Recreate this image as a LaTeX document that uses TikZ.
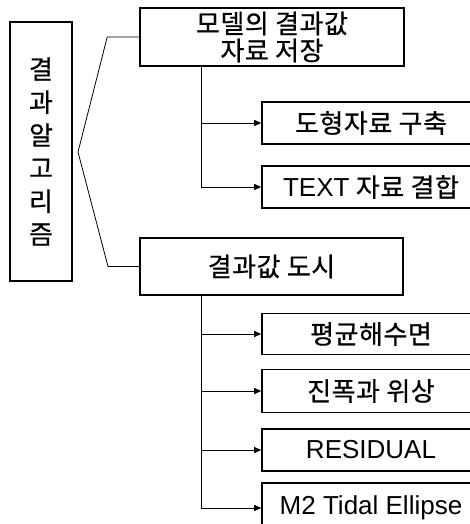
\documentclass[tikz,border=0pt]{standalone}
\usepackage{fontspec}
\newfontfamily\kor[LetterSpace=2,FakeBold=0.6]{Noto Sans CJK KR}
\newfontfamily\lat{Liberation Sans}
\usetikzlibrary{arrows.meta}
\begin{document}
\begin{tikzpicture}[x=1pt,y=-1pt,
  box/.style={draw,line width=1.6pt,inner sep=0pt,align=center,
    font=\kor\fontsize{26}{27}\selectfont},
  rbox/.style={box,minimum width=218pt},
  conn/.style={line width=0.8pt},
  arr/.style={conn,-{Triangle[length=7pt,width=6pt]}}]
\useasboundingbox (0,0) rectangle (470,524);
\fill[white] (0,0) rectangle (470,524);
\clip (0,0) rectangle (470,524);
% left title box
\node[box,minimum width=62pt,minimum height=259pt,
  font=\kor\fontsize{26}{33}\selectfont] (L) at (41,151.5)
  {결\\과\\알\\고\\리\\즘};
% level-1 boxes
\node[box,minimum width=264pt,minimum height=58pt] (A) at (272,37)
  {모델의 결과값\\자료 저장};
\node[box,minimum width=263pt,minimum height=57pt] (B) at (271.5,266.5)
  {결과값 도시};
% level-2 boxes
\node[rbox,minimum height=42pt] (b1) at (371,123) {도형자료 구축};
\node[rbox,minimum height=42pt] (b2) at (371,187) {{\lat\fontsize{26}{27}\selectfont TEXT} 자료 결합};
\node[rbox,minimum height=41pt] (c1) at (371,334) {평균해수면};
\node[rbox,minimum height=43pt] (c2) at (371,391) {진폭과 위상};
\node[rbox,minimum height=42pt,font=\lat\fontsize{26}{28}\selectfont] (c3) at (371,450) {RESIDUAL};
\node[rbox,minimum height=50pt,font=\lat\fontsize{26}{28}\selectfont] (c4) at (371,508) {M2 Tidal Ellipse};
% brace
\coordinate (apex) at (78,152);
\draw[conn] (A.west) -- ++(-32,0) -- (apex) -- (B.west -| 108,0) -- (B.west);
% trunks
\coordinate (ta) at (201,0);
\draw[arr] (A.south -| ta) |- (b1.west);
\draw[arr] (A.south -| ta) |- (b2.west);
\draw[arr] (B.south -| ta) |- (c1.west);
\draw[arr] (B.south -| ta) |- (c2.west);
\draw[arr] (B.south -| ta) |- (c3.west);
\draw[arr] (B.south -| ta) |- (c4.west);
\end{tikzpicture}
\end{document}
